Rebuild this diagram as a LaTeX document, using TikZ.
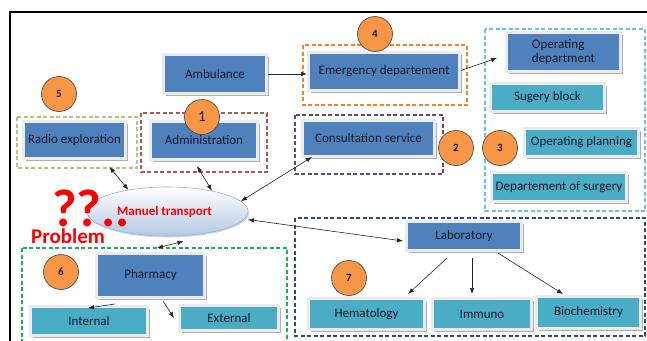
\documentclass[tikz,border=0pt]{standalone}
\usepackage{fontspec}
\setmainfont{Carlito}
\usetikzlibrary{arrows.meta,shapes.geometric,shadows}
\definecolor{myblue}{HTML}{4F81BD}
\definecolor{myteal}{HTML}{4BACC6}
\definecolor{myorange}{HTML}{F79646}
\definecolor{forange}{HTML}{F0822E}
\definecolor{fgreen}{HTML}{A9CC70}
\definecolor{fred}{HTML}{B05555}
\definecolor{fpurple}{HTML}{5F497A}
\definecolor{flblue}{HTML}{6CC0D8}
\definecolor{fgreen2}{HTML}{1BAF5A}
\definecolor{fnavy}{HTML}{2A4A85}
\definecolor{elltop}{HTML}{FFFFFF}
\definecolor{ellbot}{HTML}{B3C8E3}
\definecolor{elldraw}{HTML}{95B3D7}
\definecolor{txt}{HTML}{1A1A2A}
\begin{document}
\begin{tikzpicture}[x=1pt,y=-1pt,
  box/.style={rectangle, draw=white!92!black, line width=3pt, inner sep=1pt,
    drop shadow={shadow xshift=2.5pt, shadow yshift=-2.5pt, fill=gray!70, opacity=0.9},
    text=txt, font=\fontsize{13}{14.5}\selectfont, align=center},
  bluebox/.style={box, fill=myblue},
  tealbox/.style={box, fill=myteal},
  dframe/.style={draw=#1, dash pattern=on 4pt off 2.5pt, line width=1.2pt},
  numc/.style={circle, fill=myorange, draw=black!75, line width=0.6pt, minimum size=35pt, inner sep=0pt,
    font=\bfseries\fontsize{11}{12}\selectfont, text=txt},
  arr/.style={-{Latex[length=6pt,width=4.5pt]}, line width=0.6pt, black!85},
  darr/.style={{Latex[length=6pt,width=4.5pt]}-{Latex[length=6pt,width=4.5pt]}, line width=0.6pt, black!85}
]
\useasboundingbox (0,0) rectangle (647,340);
\fill[white] (0,0) rectangle (647,340);
\draw[line width=1.3pt] (10,342) -- (10,12) -- (649,12);

% dashed frames
\draw[dframe=fgreen] (17,117) rectangle (137,168);
\draw[dframe=fred] (141,113) rectangle (267,172);
\draw[dframe=forange] (303,45) rectangle (467,105);
\draw[dframe=fpurple] (295,115) rectangle (443,174);
\draw[dframe=flblue] (485,29) rectangle (645,211);
\draw[dframe=fgreen2] (22,248) rectangle (287,346);
\draw[dframe=fnavy] (295,218) rectangle (645,336);

% boxes
\node[bluebox, minimum width=103pt, minimum height=39pt] (amb) at (215,74) {Ambulance};
\node[bluebox, minimum width=151pt, minimum height=38pt] (em) at (384,71.5) {Emergency departement};
\node[bluebox, minimum width=114pt, minimum height=39pt, align=left] (op) at (563.5,52) {Operating\\department};
\node[tealbox, minimum width=114pt, minimum height=28pt] (sb) at (547.5,97.5) {Sugery block};
\node[tealbox, minimum width=114pt, minimum height=28pt] (opp) at (581.5,142.5) {Operating planning};
\node[tealbox, minimum width=135pt, minimum height=29pt] (dos) at (559,187) {Departement of surgery};
\node[bluebox, minimum width=102pt, minimum height=37pt] (rad) at (74.5,140) {Radio exploration};
\node[bluebox, minimum width=107pt, minimum height=38pt] (adm) at (204,140.5) {\raisebox{-4pt}{Administration}};
\node[bluebox, minimum width=132pt, minimum height=36pt] (cs) at (368.5,138.5) {\raisebox{2pt}{Consultation service}};
\node[bluebox, minimum width=108pt, minimum height=44pt] (ph) at (150.5,275.5) {Pharmacy};
\node[tealbox, minimum width=117pt, minimum height=29pt] (int) at (89,321) {Internal};
\node[tealbox, minimum width=99pt, minimum height=25pt] (ext) at (229,318) {External};
\node[bluebox, minimum width=115pt, minimum height=29pt] (lab) at (464,236) {\raisebox{1pt}{Laboratory}};
\node[tealbox, minimum width=116pt, minimum height=31pt] (hem) at (366.5,314) {Hematology};
\node[tealbox, minimum width=99pt, minimum height=31pt] (imm) at (482,314) {Immuno};
\node[tealbox, minimum width=104pt, minimum height=32pt] (bio) at (588.5,312.5) {Biochemistry};

% ellipse
\node[ellipse, minimum width=161pt, minimum height=49pt, inner sep=0pt, draw=elldraw, line width=0.6pt,
  top color=elltop, bottom color=ellbot,
  drop shadow={shadow xshift=1pt, shadow yshift=-1.5pt, fill=gray!40, opacity=0.8},
  text=red, font=\bfseries\fontsize{13}{14}\selectfont] (mt) at (167.5,211.5) {\hspace*{-6pt}Manuel transport};

% problem texts
\node[anchor=base west, inner sep=0pt, text=red, font=\bfseries\fontsize{53}{56}\selectfont] (qq) at (52,226) {??..};
\node[anchor=base west, inner sep=0pt, text=red, font=\bfseries\fontsize{21}{24}\selectfont] (prob) at (31,243) {Problem};

% circles
\node[numc] (c5) at (59,94) {5};
\node[numc, font=\fontsize{15}{16}\selectfont] (c1) at (202,117) {1};
\node[numc] (c4) at (375,34) {4};
\node[numc] (c2) at (456,148) {2};
\node[numc] (c3) at (500,148) {3};
\node[numc] (c6) at (61,272) {6};
\node[numc] (c7) at (349,278) {7};

% connectors
\draw[arr] (amb.east) -- (amb.east -| em.west);
\draw[arr] ([yshift=1pt]em.east) -- ([xshift=-8pt,yshift=-6pt]op.west);
\draw[darr] ([xshift=35pt,yshift=-7pt]rad.south) -- (mt.151);
\draw[darr] ([xshift=-7pt,yshift=-5pt]adm.south) -- (mt.25);
\draw[darr] ([xshift=11pt,yshift=1pt]cs.south west) -- (mt.8);
\draw[darr] ([xshift=4pt]mt.-6) -- ([xshift=-2pt,yshift=-5pt]lab.west);
\draw[darr] ([xshift=16pt,yshift=-5pt]mt.south) -- ([xshift=6.5pt,yshift=4pt]ph.north);
\draw[arr] ([xshift=-35.5pt,yshift=-5pt]ph.south) -- ([xshift=-1pt,yshift=-3pt]int.north);
\draw[arr] ([xshift=12.5pt,yshift=-2pt]ph.south) -- ([xshift=-4pt]ext.west);
\draw[arr] ([xshift=-17pt,yshift=-6pt]lab.south) -- ([xshift=41.5pt,yshift=3pt]hem.north);
\draw[arr] ([xshift=8pt,yshift=-6pt]lab.south) -- ([xshift=-10pt,yshift=3pt]imm.north);
\draw[arr] ([xshift=34pt,yshift=-1pt]lab.south) -- ([xshift=-25.5pt,yshift=1pt]bio.north);
\end{tikzpicture}
\end{document}
